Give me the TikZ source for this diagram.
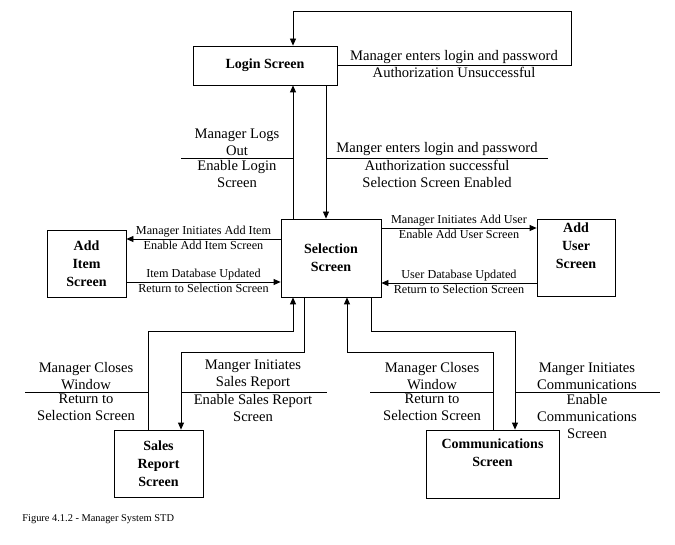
\documentclass[tikz,border=0pt]{standalone}
\usepackage{fontspec}
\setmainfont{Liberation Serif}
\usetikzlibrary{arrows.meta}
\begin{document}
\begin{tikzpicture}[x=1pt,y=-1pt,
  every path/.style={line width=0.8pt},
  box/.style={draw,align=center,inner sep=0pt,font=\fontsize{14}{18}\selectfont\bfseries},
  lbl/.style={align=center,inner sep=1.5pt,font=\fontsize{14.6}{17}\selectfont},
  slbl/.style={align=center,inner sep=1.5pt,font=\fontsize{12.2}{13.5}\selectfont},
  arr/.style={-{Triangle[length=7pt,width=6pt]}}]
  \useasboundingbox (0,0) rectangle (675,545);

  \node[box,minimum width=144pt,minimum height=39pt] (login) at (265,65.5) {Login Screen};
  \node[box,minimum width=100pt,minimum height=78pt] (sel) at (331,258) {Selection\\Screen};
  \node[box,minimum width=79pt,minimum height=67pt] (item) at (86.5,263.5) {Add\\Item\\Screen};
  \node[box,minimum width=78pt,minimum height=77pt] (user) at (576,257.5) {Add\\User\\Screen\\\strut};
  \node[box,minimum width=89pt,minimum height=67pt] (sales) at (158.5,463.5) {Sales\\Report\\Screen};
  \node[box,minimum width=133pt,minimum height=68pt] (comm) at (492.5,464) {Communications\\Screen\\\strut};

  \draw[arr] (login.east) -- (571,65.5) -- (571,11) -| ([xshift=28pt]login.north);
  \draw[arr] ([xshift=-38pt]sel.north) -- ([xshift=28pt]login.south);
  \draw[arr] ([xshift=61pt]login.south) -- ([xshift=-5pt]sel.north);

  \draw[arr] ([yshift=19pt]sel.west) -- ([yshift=19pt]sel.west -| item.east);
  \draw[arr] ([yshift=-18.5pt]item.east) -- ([yshift=-18.5pt]item.east -| sel.west);
  \draw[arr] ([yshift=30pt]sel.east) -- ([yshift=30pt]sel.east -| user.west);
  \draw[arr] ([yshift=-25.5pt]user.west) -- ([yshift=-25.5pt]user.west -| sel.east);

  \draw[arr] ([xshift=-10.5pt]sales.north) |- (293,331) -- ([xshift=-38pt]sel.south);
  \draw[arr] ([xshift=-27pt]sel.south) |- (181,352) -- ([xshift=22.5pt]sales.north);
  \draw[arr] ([xshift=0.5pt]comm.north) |- (347,352) -- ([xshift=16pt]sel.south);
  \draw[arr] ([xshift=40pt]sel.south) |- (515,331) -- ([xshift=22.5pt]comm.north);

  \node[lbl,above] at (454,65.5) {Manager enters login and password};
  \node[lbl,below] at (454,65.5) {Authorization Unsuccessful};

  \draw (181,158) -- (293,158);
  \node[lbl,above] at (237,158) {Manager Logs\\Out};
  \node[lbl,below] at (237,158) {Enable Login\\Screen};
  \draw (326,158) -- (548,158);
  \node[lbl,above] at (437,158) {Manger enters login and password};
  \node[lbl,below] at (437,158) {Authorization successful\\Selection Screen Enabled};

  \node[slbl,above] at (203.5,239) {Manager Initiates Add Item};
  \node[slbl,below] at (203.5,239) {Enable Add Item Screen};
  \node[slbl,above] at (203.5,282) {Item Database Updated};
  \node[slbl,below] at (203.5,282) {Return to Selection Screen};
  \node[slbl,above] at (459,228) {Manager Initiates Add User};
  \node[slbl,below] at (459,228) {Enable Add User Screen};
  \node[slbl,above] at (459,283) {User Database Updated};
  \node[slbl,below] at (459,283) {Return to Selection Screen};

  \draw (25,392) -- (148,392);
  \node[lbl,above] at (86,392) {Manager Closes\\Window};
  \node[lbl,below] at (86,392) {Return to\\Selection Screen};
  \draw (181,392) -- (327,392);
  \node[lbl,above] at (253,392) {Manger Initiates\\Sales Report};
  \node[lbl,below] at (253,392) {Enable Sales Report\\Screen};
  \draw (370,392) -- (493,392);
  \node[lbl,above] at (432,392) {Manager Closes\\Window};
  \node[lbl,below] at (432,392) {Return to\\Selection Screen};
  \draw (515,392) -- (660,392);
  \node[lbl,above] at (587,392) {Manger Initiates\\Communications};
  \node[lbl,below] at (587,392) {Enable\\Communications\\Screen};

  \node[anchor=west,inner sep=0pt,font=\fontsize{10.4}{11}\selectfont] (cap) at (22,519) {Figure 4.1.2 - Manager System STD};
\end{tikzpicture}
\end{document}
